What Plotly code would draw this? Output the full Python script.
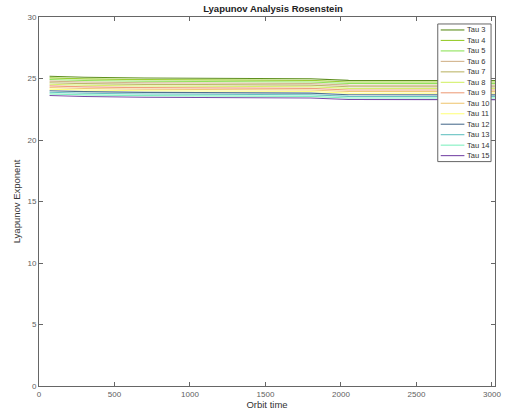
import plotly.graph_objects as go

orbit_time = [70, 300, 700, 1200, 1800, 2050, 2500, 3020]
taus = ["Tau 3", "Tau 4", "Tau 5", "Tau 6", "Tau 7", "Tau 8", "Tau 9",
        "Tau 10", "Tau 11", "Tau 12", "Tau 13", "Tau 14", "Tau 15"]
tau3 = [25.18, 25.10, 25.04, 25.02, 24.98, 24.85, 24.84, 24.84]
tau4 = [25.05, 24.97, 24.91, 24.89, 24.85, 24.72, 24.71, 24.71]
tau5 = [24.92, 24.84, 24.78, 24.76, 24.72, 24.59, 24.58, 24.58]
tau6 = [24.79, 24.71, 24.65, 24.63, 24.59, 24.46, 24.45, 24.45]
tau7 = [24.66, 24.58, 24.52, 24.50, 24.46, 24.33, 24.32, 24.32]
tau8 = [24.53, 24.45, 24.39, 24.37, 24.33, 24.20, 24.19, 24.19]
tau9 = [24.40, 24.32, 24.26, 24.24, 24.20, 24.07, 24.06, 24.06]
tau10 = [24.27, 24.19, 24.13, 24.11, 24.07, 23.94, 23.93, 23.93]
tau11 = [24.14, 24.06, 24.00, 23.98, 23.94, 23.81, 23.80, 23.80]
tau12 = [24.01, 23.93, 23.87, 23.85, 23.81, 23.68, 23.67, 23.67]
tau13 = [23.88, 23.80, 23.74, 23.72, 23.68, 23.55, 23.54, 23.54]
tau14 = [23.75, 23.67, 23.61, 23.59, 23.55, 23.42, 23.41, 23.41]
tau15 = [23.62, 23.54, 23.48, 23.46, 23.42, 23.29, 23.28, 23.28]
series = [tau3, tau4, tau5, tau6, tau7, tau8, tau9, tau10, tau11, tau12, tau13, tau14, tau15]
colors = ["#5f8f1f", "#9acd32", "#8fe35a", "#d2b48c", "#bdb76b", "#d4f06a", "#eea07e",
          "#f0c878", "#ffff80", "#4f7090", "#66c2c2", "#80f0c0", "#7a4aa8"]

FONT = "Liberation Sans, Arial, sans-serif"
fig = go.Figure()
for name, vals, c in zip(taus, series, colors):
    fig.add_trace(go.Scatter(x=orbit_time, y=vals, mode="lines", name=name,
                             line=dict(color=c, width=1.1), showlegend=False))

# manual compact legend (MATLAB style)
W, H = 462.0, 370.0
lx0, lx1, ly0, ly1 = 443, 497, 24, 162
fig.add_shape(type="rect", xref="paper", yref="paper",
              x0=(lx0 - 39) / W, x1=(lx1 - 39) / W,
              y0=(387 - ly1) / H, y1=(387 - ly0) / H,
              line=dict(color="#666666", width=1), fillcolor="white", layer="above")
for i, (name, c) in enumerate(zip(taus, colors)):
    py = 30 + i * 10.5
    yp = (387 - py) / H
    fig.add_shape(type="line", xref="paper", yref="paper",
                  x0=(446 - 39) / W, x1=(470 - 39) / W, y0=yp, y1=yp,
                  line=dict(color=c, width=1.1), layer="above")
    fig.add_annotation(xref="paper", yref="paper", x=(471 - 39) / W, y=yp,
                       text=name, showarrow=False, xanchor="left", yanchor="middle",
                       font=dict(family=FONT, size=7.5, color="#333333"))

axis_common = dict(showline=True, mirror="ticks", linecolor="#666666", linewidth=1,
                   ticks="inside", ticklen=4, tickcolor="#666666", showgrid=False,
                   zeroline=False, tickfont=dict(family=FONT, size=8, color="#606060"))
fig.update_xaxes(range=[0, 3020], tickvals=[0, 500, 1000, 1500, 2000, 2500, 3000],
                 title=dict(text="Orbit time", font=dict(family=FONT, size=9.5, color="#333333"),
                            standoff=3), **axis_common)
fig.update_yaxes(range=[0, 30], tickvals=[0, 5, 10, 15, 20, 25, 30],
                 title=dict(text="Lyapunov Exponent", font=dict(family=FONT, size=9.5, color="#333333"),
                            standoff=5), **axis_common)
fig.update_layout(
    width=509, height=416,
    margin=dict(l=39, r=8, t=17, b=29),
    paper_bgcolor="white", plot_bgcolor="white",
    title=dict(text="<b>Lyapunov Analysis Rosenstein</b>", x=(273) / 509, xanchor="center",
               y=1 - 9 / 416, yanchor="middle",
               font=dict(family=FONT, size=9.5, color="#222222")),
)
fig.write_html("out.html")
